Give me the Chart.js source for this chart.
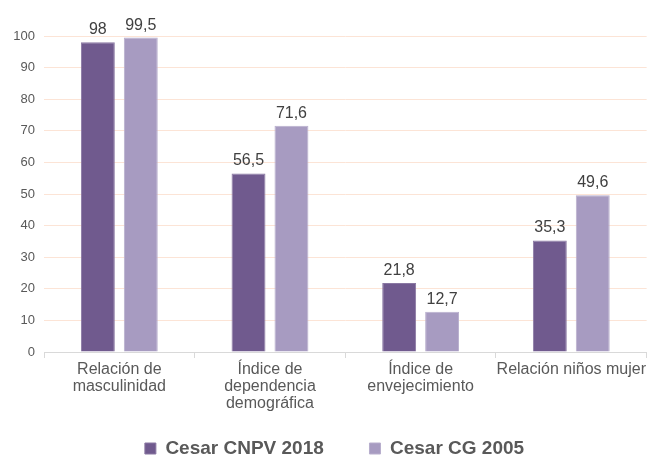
<!DOCTYPE html>
<html>
<head>
<meta charset="utf-8">
<script src="https://cdn.jsdelivr.net/npm/chart.js@4/dist/chart.umd.min.js"></script>
<style>
  html, body { margin: 0; padding: 0; background: #fff; }
  #wrap { width: 649px; height: 460px; }
</style>
</head>
<body>
<div id="wrap"><canvas id="chart"></canvas></div>
<script>
// Indicadores demográficos, Cesar
const categories = [
  ['Relación de', 'masculinidad'],
  ['Índice de', 'dependencia', 'demográfica'],
  ['Índice de', 'envejecimiento'],
  'Relación niños mujer'
]
const cnpv2018 = [98, 56.5, 21.8, 35.3]
const cg2005 = [99.5, 71.6, 12.7, 49.6]
const yTicks = [0, 10, 20, 30, 40, 50, 60, 70, 80, 90, 100]

const font = 'Liberation Sans, Arial, sans-serif'

// draw the value above each bar, with a decimal comma
const valueLabels = {
  id: 'valueLabels',
  afterDatasetsDraw(chart) {
    const ctx = chart.ctx
    ctx.save()
    ctx.font = '16px ' + font
    ctx.fillStyle = '#404040'
    ctx.textAlign = 'center'
    ctx.textBaseline = 'alphabetic'
    chart.data.datasets.forEach((ds, i) => {
      chart.getDatasetMeta(i).data.forEach((bar, j) => {
        ctx.fillText(String(ds.data[j]).replace('.', ','), bar.x, bar.y - 8)
      })
    })
    ctx.restore()
  }
}

// the legend sits a little right of the middle in the original
const legendShift = {
  id: 'legendShift',
  afterLayout(chart) {
    chart.legend.left += 5
    chart.legend.right += 5
  }
}

new Chart(document.getElementById('chart'), {
  type: 'bar',
  data: {
    labels: categories,
    datasets: [
      {
        label: 'Cesar CNPV 2018',
        data: cnpv2018,
        backgroundColor: '#705A8E',
        borderColor: '#8a78a3',
        borderWidth: 1
      },
      {
        label: 'Cesar CG 2005',
        data: cg2005,
        backgroundColor: '#A79BC1',
        borderColor: '#b8aecd',
        borderWidth: 1
      }
    ]
  },
  options: {
    responsive: true,
    maintainAspectRatio: false,
    animation: false,
    categoryPercentage: 0.57,
    barPercentage: 0.79,
    layout: { padding: { top: 36, right: 0, left: 10, bottom: -8 } },
    plugins: {
      legend: {
        position: 'bottom',
        labels: {
          font: { family: font, size: 19, weight: 'bold' },
          color: '#595959',
          boxWidth: 11,
          boxHeight: 11,
          padding: 14,
          // wider gap between the two legend entries
          generateLabels(chart) {
            const items = Chart.defaults.plugins.legend.labels.generateLabels(chart)
            items[0].text += '      '
            return items
          }
        }
      },
      tooltip: { enabled: false }
    },
    scales: {
      x: {
        afterFit(scale) {
          scale.height = 73
        },
        grid: {
          offset: true,
          drawOnChartArea: false,
          color: '#D9D9D9',
          tickLength: 6
        },
        border: { color: '#D9D9D9' },
        ticks: {
          font: { family: font, size: 16, lineHeight: 1.06 },
          color: '#595959',
          padding: 3,
          autoSkip: false,
          maxRotation: 0,
          minRotation: 0
        }
      },
      y: {
        min: 0,
        max: 100,
        afterBuildTicks(scale) {
          scale.ticks = yTicks.map((v) => ({ value: v }))
        },
        afterFit(scale) {
          scale.width = 34
        },
        grid: {
          color: (c) => (c.tick && c.tick.value === 0 ? '#D9D9D9' : '#FCE4D6'),
          drawTicks: false
        },
        border: { display: false },
        ticks: {
          font: { family: font, size: 13 },
          color: '#595959',
          padding: 9
        }
      }
    }
  },
  plugins: [valueLabels, legendShift]
})
</script>
</body>
</html>
